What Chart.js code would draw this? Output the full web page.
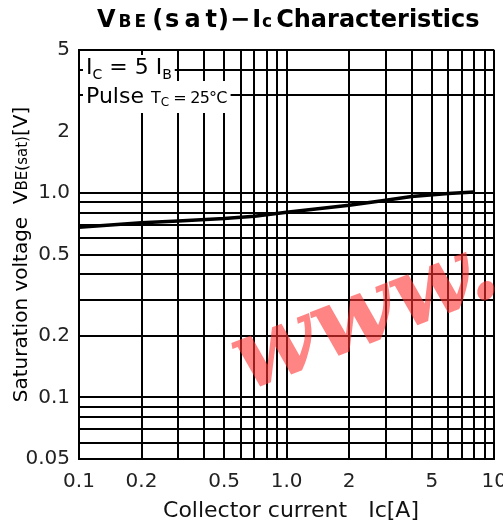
<!DOCTYPE html>
<html>
<head>
<meta charset="utf-8">
<script src="https://cdn.jsdelivr.net/npm/chart.js@4"></script>
<style>
  html, body { margin: 0; padding: 0; background: #fff; overflow: hidden; }
  #wrap { width: 518px; height: 527px; }
</style>
</head>
<body>
<div id="wrap"><canvas id="vbeChart"></canvas></div>
<script>
// VBE(sat) - Ic curve
const currentA = [0.1, 0.2, 0.3, 0.5, 0.7, 1, 2, 3, 4, 6, 8];
const vbeSat = [0.68, 0.715, 0.73, 0.75, 0.77, 0.805, 0.87, 0.92, 0.96, 0.995, 1.01];

// grid lines and tick labels
const xGrid = [0.1, 0.2, 0.3, 0.4, 0.5, 0.6, 0.7, 0.8, 0.9, 1, 2, 3, 4, 5, 6, 7, 8, 9, 10];
const xTickValues = [0.1, 0.2, 0.5, 1, 2, 5, 10];
const xTickLabels = ["0.1", "0.2", "0.5", "1.0", "2", "5", "10"];
const yGrid = [0.05, 0.06, 0.07, 0.08, 0.09, 0.1, 0.2, 0.3, 0.4, 0.5, 0.6, 0.7, 0.8, 0.9, 1, 2, 3, 4, 5];
const yNoLine = [2];
const yTickValues = [0.05, 0.1, 0.2, 0.5, 1, 2, 5];
const yTickLabels = ["0.05", "0.1", "0.2", "0.5", "1.0", "2", "5"];

const FONT = "DejaVu Sans";

function labelFor(values, labels, v) {
    const i = values.findIndex(t => Math.abs(t - v) < 1e-9);
    return i < 0 ? "" : labels[i];
}

// draw a run of text pieces with different fonts, returns end x
function drawRun(ctx, x, y, parts) {
    parts.forEach(p => {
        ctx.font = p.font;
        ctx.letterSpacing = (p.sp || 0) + "px";
        x += p.gap || 0;
        ctx.fillText(p.t, x, y + (p.dy || 0));
        x += ctx.measureText(p.t).width;
    });
    ctx.letterSpacing = "0px";
    return x;
}

function runWidth(ctx, parts) {
    let w = 0;
    parts.forEach(p => {
        ctx.font = p.font;
        ctx.letterSpacing = (p.sp || 0) + "px";
        w += (p.gap || 0) + ctx.measureText(p.t).width;
    });
    ctx.letterSpacing = "0px";
    return w;
}

const decor = {
    id: "decor",
    afterDraw(chart) {
        const ctx = chart.ctx;
        const area = chart.chartArea;
        ctx.save();
        ctx.fillStyle = "#000";
        ctx.textBaseline = "alphabetic";
        ctx.textAlign = "left";

        // title
        drawRun(ctx, 97, 27, [
            { t: "V", font: "bold 24px " + FONT },
            { t: "BE", font: "bold 17px " + FONT, sp: 3, gap: 3 },
            { t: "(", font: "bold 24px " + FONT, gap: 3 },
            { t: "sat", font: "bold 24px " + FONT, sp: 5, gap: 2 },
            { t: ")", font: "bold 24px " + FONT, gap: -4 },
            { t: "\u2212", font: "bold 24px " + FONT, gap: 1 },
            { t: "I", font: "bold 24px " + FONT, gap: 2 },
            { t: "c", font: "bold 17px " + FONT, gap: 1 },
            { t: "Characteristics", font: "bold 24px " + FONT, gap: 4 }
        ]);

        // conditions box
        const row1 = [
            { t: "I", font: "22px " + FONT },
            { t: "C", font: "14px " + FONT, dy: 5 },
            { t: " = 5 I", font: "22px " + FONT },
            { t: "B", font: "14px " + FONT, dy: 5 }
        ];
        const row2 = [
            { t: "Pulse ", font: "22px " + FONT },
            { t: "T", font: "16px " + FONT },
            { t: "C", font: "12px " + FONT, dy: 3 },
            { t: " = 25\u00b0C", font: "16px " + FONT, sp: -0.8 }
        ];
        const bx = area.left + 4;
        ctx.fillStyle = "#fff";
        ctx.fillRect(bx, area.top + 5, runWidth(ctx, row1) + 6, 27);
        ctx.fillRect(bx, area.top + 31, runWidth(ctx, row2) + 7, 32);
        ctx.fillStyle = "#000";
        drawRun(ctx, bx + 3, area.top + 24, row1);
        drawRun(ctx, bx + 3, area.top + 53, row2);

        // y axis title
        const yParts = [
            { t: "Saturation voltage  V", font: "20px " + FONT },
            { t: "BE(sat)", font: "15px " + FONT },
            { t: "[V]", font: "20px " + FONT }
        ];
        ctx.save();
        ctx.translate(27, (area.top + area.bottom) / 2);
        ctx.rotate(-Math.PI / 2);
        drawRun(ctx, -runWidth(ctx, yParts) / 2, 0, yParts);
        ctx.restore();

        // x axis title
        ctx.font = "22px " + FONT;
        ctx.textAlign = "center";
        ctx.fillStyle = "#111";
        ctx.fillText("Collector current   Ic[A]", 291, 517);

        // watermark
        ctx.save();
        ctx.translate(366, 318);
        ctx.rotate(-0.37);
        ctx.font = "italic bold 98px DejaVu Serif";
        ctx.fillStyle = "rgba(255, 50, 50, 0.6)";
        ctx.textBaseline = "middle";
        ctx.textAlign = "center";
        ctx.fillText("www.", 0, 0);
        ctx.restore();

        ctx.restore();
    }
};

new Chart("vbeChart", {
    type: "line",
    data: {
        datasets: [{
            data: currentA.map((x, i) => ({ x: x, y: vbeSat[i] })),
            borderColor: "#000",
            borderWidth: 3.5,
            pointRadius: 0,
            tension: 0,
            fill: false
        }]
    },
    options: {
        responsive: true,
        maintainAspectRatio: false,
        animation: false,
        layout: { padding: { top: 50, right: 0, left: 0, bottom: 0 } },
        plugins: {
            legend: { display: false },
            tooltip: { enabled: false }
        },
        scales: {
            x: {
                type: "logarithmic",
                min: 0.1,
                max: 10,
                afterBuildTicks: s => { s.ticks = xGrid.map(v => ({ value: v })); },
                afterFit: s => { s.height = 68; },
                grid: { color: "#000", lineWidth: 2, drawTicks: false },
                border: { color: "#000", width: 2 },
                ticks: {
                    autoSkip: false,
                    maxRotation: 0,
                    padding: 11,
                    color: "#222",
                    font: { family: FONT, size: 20 },
                    callback: v => labelFor(xTickValues, xTickLabels, v)
                }
            },
            y: {
                type: "logarithmic",
                min: 0.05,
                max: 5,
                afterBuildTicks: s => { s.ticks = yGrid.map(v => ({ value: v })); },
                afterFit: s => { s.width = 79; },
                grid: {
                    lineWidth: 2,
                    drawTicks: false,
                    color: c => yNoLine.includes(c.tick && c.tick.value) ? "rgba(0,0,0,0)" : "#000"
                },
                border: { color: "#000", width: 2 },
                ticks: {
                    autoSkip: false,
                    padding: 9,
                    color: "#222",
                    font: { family: FONT, size: 20 },
                    callback: v => labelFor(yTickValues, yTickLabels, v)
                }
            }
        }
    },
    plugins: [decor]
});
</script>
</body>
</html>
